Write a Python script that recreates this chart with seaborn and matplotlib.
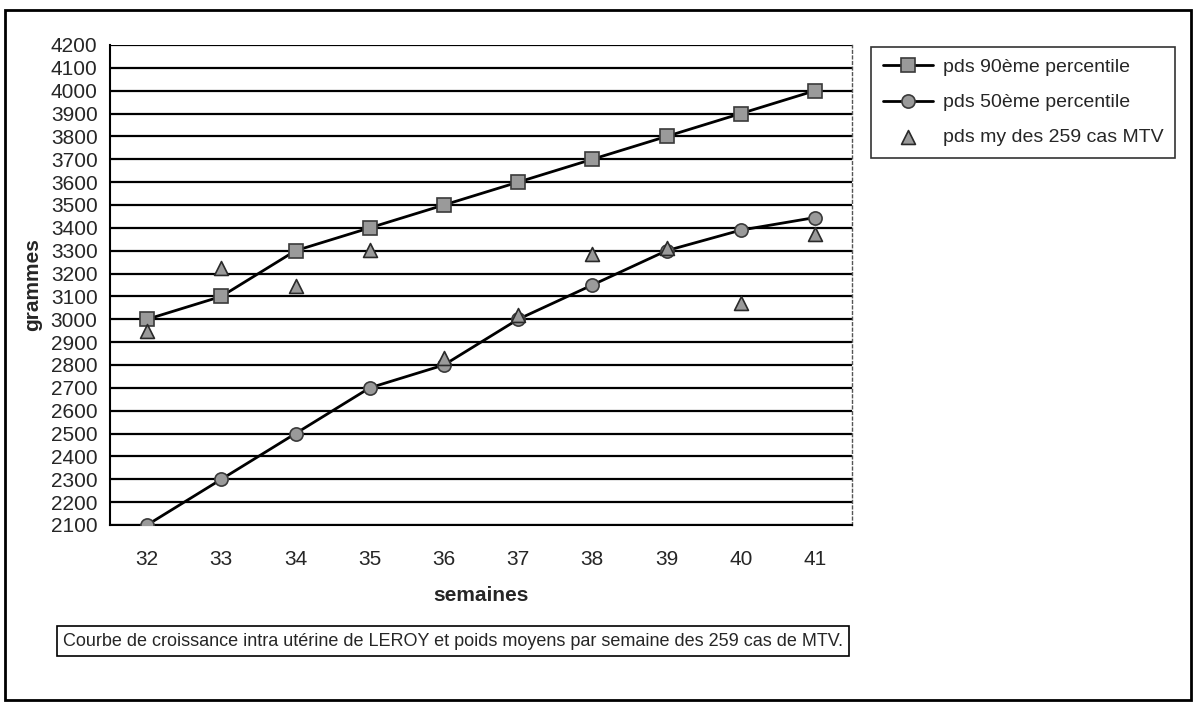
import matplotlib
matplotlib.use("Agg")
import matplotlib.pyplot as plt
import seaborn as sns
import pandas as pd
from matplotlib.patches import Rectangle
from matplotlib.ticker import FixedLocator

semaines = [32, 33, 34, 35, 36, 37, 38, 39, 40, 41]
p90 = [3000, 3100, 3300, 3400, 3500, 3600, 3700, 3800, 3900, 4000]
p50 = [2100, 2300, 2500, 2700, 2800, 3000, 3150, 3300, 3390, 3445]
mtv = [2950, 3225, 3145, 3305, 2830, 3020, 3285, 3310, 3070, 3375]
y_ticks = list(range(2100, 4201, 100))

lab90 = "pds 90ème percentile"
lab50 = "pds 50ème percentile"
labmtv = "pds my des 259 cas MTV"
caption = "Courbe de croissance intra utérine de LEROY et poids moyens par semaine des 259 cas de MTV."

sns.set_style("white")
plt.rcParams['font.family'] = ['Liberation Sans', 'DejaVu Sans']

df = pd.DataFrame({"semaine": semaines, "p90": p90, "p50": p50, "mtv": mtv})

W, H = 1196, 706
fig = plt.figure(figsize=(W / 100, H / 100), dpi=100)
ax = fig.add_axes([110 / W, 1 - 525 / H, (852 - 110) / W, (525 - 45) / H])

for y in y_ticks:
    ax.axhline(y, color="black", lw=1.6, zorder=1)

sns.lineplot(data=df, x="semaine", y="p90", ax=ax, color="black", lw=2,
             marker="s", markersize=9.5, markerfacecolor="#9a9a9a",
             markeredgecolor="#3a3a3a", markeredgewidth=1.2, label=lab90, zorder=3)
sns.lineplot(data=df, x="semaine", y="p50", ax=ax, color="black", lw=2,
             marker="o", markersize=9.5, markerfacecolor="#9a9a9a",
             markeredgecolor="#3a3a3a", markeredgewidth=1.2, label=lab50, zorder=3)
sns.scatterplot(data=df, x="semaine", y="mtv", ax=ax, marker="^", s=100,
                color="#9a9a9a", edgecolor="#2a2a2a", linewidth=1.2, label=labmtv, zorder=4)

ax.set_xlim(31.5, 41.5)
ax.set_ylim(2100, 4200)
ax.set_xticks(semaines)
ax.set_xticklabels([str(s) for s in semaines])
ax.xaxis.set_minor_locator(FixedLocator([s - 0.5 for s in semaines] + [semaines[-1] + 0.5]))
ax.set_yticks(y_ticks)
ax.set_yticklabels([str(v) for v in y_ticks])
ax.tick_params(axis="x", which="major", length=0, labelsize=15, pad=18)
ax.tick_params(axis="x", which="minor", length=6, width=1.2, color="black", direction="out")
ax.tick_params(axis="y", which="major", length=6, width=1.2, color="black",
               direction="out", labelsize=15, pad=3)
ax.set_xlabel("semaines", fontsize=15, fontweight="bold", labelpad=12)
ax.set_ylabel("grammes", fontsize=15, fontweight="bold", labelpad=6)

for s in ["left", "bottom"]:
    ax.spines[s].set_color("black")
    ax.spines[s].set_linewidth(1.5)
ax.spines["top"].set_visible(False)
ax.spines["right"].set_color("#555555")
ax.spines["right"].set_linewidth(1.0)
ax.spines["right"].set_linestyle((0, (2, 2)))

handles, labels = ax.get_legend_handles_labels()
ax.get_legend().remove()
leg = fig.legend(handles, labels, loc="upper left",
                 bbox_to_anchor=(871 / W, 1 - 47 / H), frameon=True, fancybox=False,
                 edgecolor="black", fontsize=14, handlelength=2.6, handletextpad=0.5,
                 borderpad=0.6, labelspacing=0.9, borderaxespad=0)
leg.get_frame().set_linewidth(1.2)

fig.text(63 / W, 1 - 641 / H, caption, fontsize=13, ha="left", va="center",
         family=['Liberation Sans Narrow', 'Liberation Sans', 'DejaVu Sans'],
         bbox=dict(boxstyle="square,pad=0.35", fc="white", ec="black", lw=1.2))

fig.patches.append(Rectangle((5 / W, 1 - 700 / H), (1191 - 5) / W, (700 - 10) / H,
                             transform=fig.transFigure, fill=False, ec="black", lw=2))

fig.savefig("out.png", dpi=100)
